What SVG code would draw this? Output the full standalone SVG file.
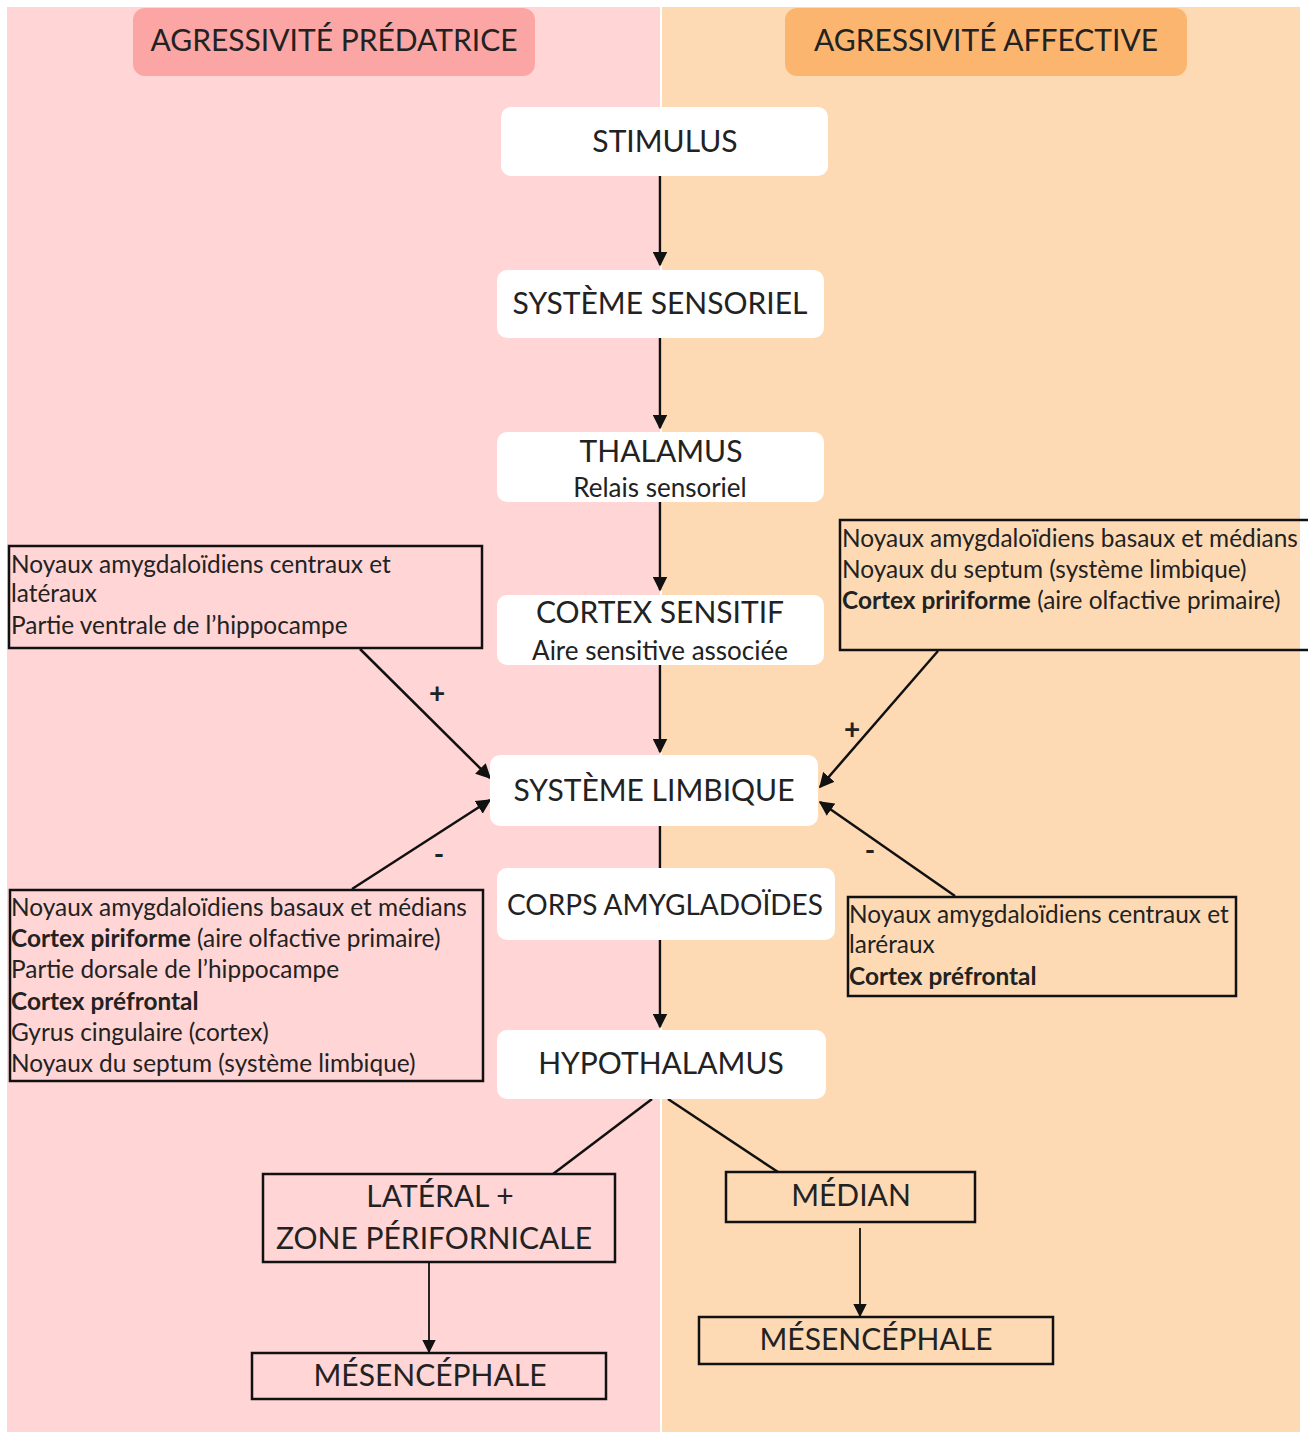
<svg xmlns="http://www.w3.org/2000/svg" width="1308" height="1432" viewBox="0 0 1308 1432">
<style>
.t{font-family:Lato,"Open Sans","Liberation Sans",sans-serif;fill:#222;}
.big{font-size:30px;text-anchor:middle;}
.sub{font-size:26px;text-anchor:middle;}
.sm{font-size:24.4px;}
.b{font-weight:bold;}
.sg{font-size:28px;font-weight:bold;text-anchor:middle;}
.wb{fill:#fff;}
.bx{fill:none;stroke:#111;stroke-width:2.5;}
.ln{stroke:#111;stroke-width:2.5;fill:none;}
.la{stroke:#111;stroke-width:2.5;fill:none;marker-end:url(#ah);}
.lt{stroke:#111;stroke-width:1.8;fill:none;marker-end:url(#ah2);}
</style>
<defs>
<marker id="ah" viewBox="0 0 10 10" refX="9" refY="5" markerWidth="6" markerHeight="6" orient="auto" markerUnits="strokeWidth"><path d="M0,0 L10,5 L0,10 z" fill="#111"/></marker>
<marker id="ah2" viewBox="0 0 10 10" refX="9" refY="5" markerWidth="7.5" markerHeight="7.5" orient="auto" markerUnits="strokeWidth"><path d="M0,0 L10,5 L0,10 z" fill="#111"/></marker>
</defs>
<rect width="1308" height="1432" fill="#fff"/>
<rect x="7" y="7" width="653" height="1425" fill="#FFD5D5"/>
<rect x="662" y="7" width="638" height="1425" fill="#FDDAB4"/>

<g id="head-left"><rect x="133" y="8" width="402" height="68" rx="12" fill="#FBA6A4"/><text class="t big" x="334" y="51">AGRESSIVITÉ PRÉDATRICE</text></g>
<g id="head-right"><rect x="785" y="8" width="402" height="68" rx="12" fill="#FBB56F"/><text class="t big" x="986" y="51">AGRESSIVITÉ AFFECTIVE</text></g>

<g id="connectors">
<line class="la" x1="660" y1="176" x2="660" y2="265"/>
<line class="la" x1="660" y1="338" x2="660" y2="428"/>
<line class="la" x1="660" y1="502" x2="660" y2="590"/>
<line class="la" x1="660" y1="665" x2="660" y2="752"/>
<line class="ln" x1="660" y1="826" x2="660" y2="868"/>
<line class="la" x1="660" y1="940" x2="660" y2="1027"/>
<line class="la" x1="360" y1="649" x2="490" y2="778"/>
<line class="la" x1="938" y1="651" x2="820" y2="787"/>
<line class="la" x1="352" y1="889" x2="490" y2="800"/>
<line class="la" x1="955" y1="896" x2="820" y2="802"/>
<line class="ln" x1="652" y1="1099" x2="553" y2="1174"/>
<line class="ln" x1="668" y1="1099" x2="778" y2="1172"/>
<line class="lt" x1="429" y1="1262" x2="429" y2="1352"/>
<line class="lt" x1="860" y1="1228" x2="860" y2="1316"/>
<text class="t sg" x="437" y="703">+</text>
<text class="t sg" x="852" y="739">+</text>
<text class="t sg" x="439" y="864">-</text>
<text class="t sg" x="870" y="860">-</text>
</g>

<g id="stimulus"><rect class="wb" x="501" y="107" width="327" height="69" rx="10"/><text class="t big" x="665" y="152" font-size="31">STIMULUS</text></g>
<g id="sensoriel"><rect class="wb" x="497" y="270" width="327" height="68" rx="10"/><text class="t big" x="660" y="314">SYSTÈME SENSORIEL</text></g>
<g id="thalamus"><rect class="wb" x="497" y="432" width="327" height="70" rx="10"/><text class="t big" x="661" y="462">THALAMUS</text><text class="t sub" x="660" y="497">Relais sensoriel</text></g>
<g id="cortex"><rect class="wb" x="497" y="595" width="327" height="70" rx="10"/><text class="t big" x="660" y="623">CORTEX SENSITIF</text><text class="t sub" x="660" y="660">Aire sensitive associée</text></g>
<g id="limbique"><rect class="wb" x="490" y="755" width="328" height="71" rx="10"/><text class="t big" x="654" y="801">SYSTÈME LIMBIQUE</text></g>
<g id="corps"><rect class="wb" x="497" y="868" width="338" height="72" rx="10"/><text class="t big" x="665" y="915" style="font-size:28px">CORPS AMYGLADOÏDES</text></g>
<g id="hypothalamus"><rect class="wb" x="497" y="1030" width="329" height="69" rx="10"/><text class="t big" x="661" y="1074">HYPOTHALAMUS</text></g>

<g id="left-top"><rect class="bx" x="9" y="546" width="473" height="102"/>
<text class="t sm" x="11" y="573">Noyaux amygdaloïdiens centraux et</text>
<text class="t sm" x="11" y="602">latéraux</text>
<text class="t sm" x="11" y="634">Partie ventrale de l’hippocampe</text></g>

<g id="right-top"><rect class="bx" x="840" y="520" width="470" height="130"/>
<text class="t sm" x="842" y="547">Noyaux amygdaloïdiens basaux et médians</text>
<text class="t sm" x="842" y="578">Noyaux du septum (système limbique)</text>
<text class="t sm" x="842" y="609"><tspan class="b">Cortex pririforme</tspan> (aire olfactive primaire)</text></g>

<g id="left-bottom"><rect class="bx" x="10" y="890" width="473" height="191"/>
<text class="t sm" x="11" y="916">Noyaux amygdaloïdiens basaux et médians</text>
<text class="t sm" x="11" y="947"><tspan class="b">Cortex piriforme</tspan> (aire olfactive primaire)</text>
<text class="t sm" x="11" y="978">Partie dorsale de l’hippocampe</text>
<text class="t sm b" x="11" y="1010">Cortex préfrontal</text>
<text class="t sm" x="11" y="1041">Gyrus cingulaire (cortex)</text>
<text class="t sm" x="11" y="1072">Noyaux du septum (système limbique)</text></g>

<g id="right-bottom"><rect class="bx" x="848" y="897" width="388" height="99"/>
<text class="t sm" x="849" y="923">Noyaux amygdaloïdiens centraux et</text>
<text class="t sm" x="849" y="953">laréraux</text>
<text class="t sm b" x="849" y="985">Cortex préfrontal</text></g>

<g id="lateral"><rect class="bx" x="263" y="1174" width="352" height="88"/>
<text class="t big" x="440" y="1207">LATÉRAL +</text>
<text class="t big" x="434" y="1249">ZONE PÉRIFORNICALE</text></g>
<g id="mes-left"><rect class="bx" x="252" y="1353" width="354" height="46"/><text class="t big" x="430" y="1386">MÉSENCÉPHALE</text></g>
<g id="median"><rect class="bx" x="726" y="1172" width="249" height="50"/><text class="t big" x="851" y="1206">MÉDIAN</text></g>
<g id="mes-right"><rect class="bx" x="699" y="1317" width="354" height="47"/><text class="t big" x="876" y="1350">MÉSENCÉPHALE</text></g>
</svg>
